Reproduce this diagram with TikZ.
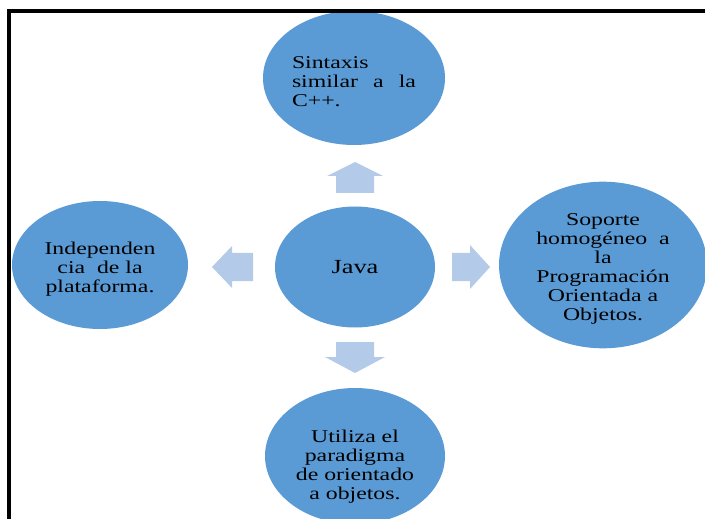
\documentclass[tikz,border=0pt]{standalone}
\usepackage{fontspec}
\setmainfont{Liberation Serif}[FakeStretch=1.32]
\usetikzlibrary{shapes.geometric}
\definecolor{circblue}{HTML}{5B9BD5}
\definecolor{arrblue}{HTML}{B4CAE9}
\tikzset{
  bubble/.style={ellipse, fill=circblue, draw=none, inner sep=0pt, align=center,
    font=\fontsize{18bp}{19bp}\selectfont, text=black},
  blockarrow/.style={fill=arrblue, draw=none}
}
\begin{document}
\begin{tikzpicture}[x=1bp, y=-1bp]
\useasboundingbox (0,0) rectangle (705,519);
\begin{scope}
\clip (11,13) rectangle (705,519);
\node[bubble, minimum width=182bp, minimum height=134bp, text width=124bp, align=left] (top) at (354,78)
  {\rule{0pt}{20bp}Sintaxis\\\makebox[124bp][l]{similar\hfill a\hfill la}\\C++.};
\node[bubble, minimum width=160bp, minimum height=121bp, font=\fontsize{20bp}{22bp}\selectfont] (java) at (355,267) {Java};
\node[bubble, minimum width=176bp, minimum height=128bp] (left) at (100,265)
  {\rule{0pt}{21bp}Independen\\cia\ \ de la\\plataforma.};
\node[bubble, minimum width=208bp, minimum height=144bp] (right) at (603,265)
  {\rule{0pt}{19bp}Soporte\\homogéneo\ \ a\\la\\Programación\\Orientada a\\Objetos.};
\node[bubble, minimum width=180bp, minimum height=136bp] (bottom) at (355,456)
  {\rule{0pt}{33bp}Utiliza el\\paradigma\\de orientado\\a objetos.};
\end{scope}
% block arrows
\fill[blockarrow] (355,162) -- (383,176) -- (374,176) -- (374,193) -- (336,193) -- (336,176) -- (327,176) -- cycle;
\fill[blockarrow] (355,373) -- (385,357) -- (374,357) -- (374,342) -- (336,342) -- (336,357) -- (325,357) -- cycle;
\fill[blockarrow] (212,267) -- (232,246) -- (232,253) -- (253,253) -- (253,281) -- (232,281) -- (232,288) -- cycle;
\fill[blockarrow] (490,267) -- (470,245) -- (470,253) -- (452,253) -- (452,281) -- (470,281) -- (470,289) -- cycle;
% frame
\draw[line width=4bp] (9,11) rectangle (730,540);
\end{tikzpicture}
\end{document}
